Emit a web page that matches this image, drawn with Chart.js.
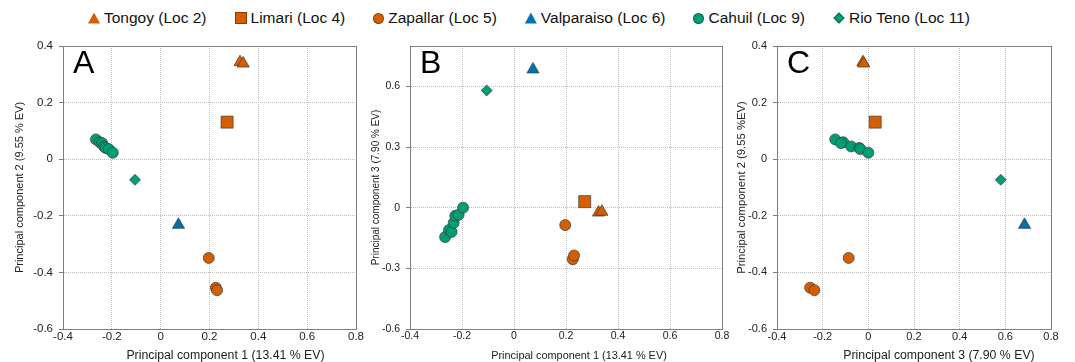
<!DOCTYPE html>
<html>
<head>
<meta charset="utf-8">
<script src="https://cdn.jsdelivr.net/npm/chart.js@4.4.1/dist/chart.umd.min.js"></script>
<style>
  body { margin:0; background:#fff; width:1075px; height:362px; overflow:hidden; position:relative;
         font-family:"Liberation Sans", Arial, sans-serif; }
  #legend { position:absolute; left:88px; top:0; height:36px; display:flex;
            justify-content:flex-start; align-items:center; gap:28px; font-size:15.5px; color:#111; }
  .item { display:flex; align-items:center; white-space:nowrap; }
  .mk { display:inline-block; margin-right:4px; }
  .triangle { width:12px; height:11px; clip-path:polygon(50% 0, 100% 100%, 0 100%); }
  .rect { width:12px; height:12px; box-sizing:border-box; border:1px solid rgba(0,0,0,0.35); }
  .circle { width:11px; height:11px; border-radius:50%; box-sizing:border-box; border:1px solid rgba(0,0,0,0.35); }
  .rectRot { width:8px; height:8px; transform:rotate(45deg); margin:0 6px 0 2px; box-sizing:border-box; border:1px solid rgba(0,0,0,0.35); }
  canvas { position:absolute; }
</style>
</head>
<body>
<div id="legend"></div>
<canvas id="chartA" width="370" height="332" style="left:0;top:30px"></canvas>
<canvas id="chartB" width="380" height="332" style="left:355px;top:30px"></canvas>
<canvas id="chartC" width="355" height="332" style="left:720px;top:30px"></canvas>
<script>
// sites, in legend order
var locNames = ['Tongoy (Loc 2)', 'Limari (Loc 4)', 'Zapallar (Loc 5)', 'Valparaiso (Loc 6)', 'Cahuil (Loc 9)', 'Rio Teno (Loc 11)'];

// principal component scores
var tongoyPC1 = [0.325, 0.338];
var tongoyPC2 = [0.343, 0.338];
var tongoyPC3 = [-0.024, -0.020];

var limariPC1 = [0.272];
var limariPC2 = [0.131];
var limariPC3 = [0.030];

var zapallarPC1 = [0.197, 0.226, 0.231];
var zapallarPC2 = [-0.349, -0.454, -0.463];
var zapallarPC3 = [-0.086, -0.255, -0.236];

var valparaisoPC1 = [0.073];
var valparaisoPC2 = [-0.232];
var valparaisoPC3 = [0.684];

var cahuilPC1 = [-0.265, -0.250, -0.240, -0.232, -0.226, -0.213, -0.196];
var cahuilPC2 = [0.070, 0.060, 0.057, 0.045, 0.040, 0.036, 0.023];
var cahuilPC3 = [-0.145, -0.110, -0.120, -0.075, -0.040, -0.035, 0.000];

var rioTenoPC1 = [-0.105];
var rioTenoPC2 = [-0.073];
var rioTenoPC3 = [0.580];

// tick labels
var ticksPC = [-0.4, -0.2, 0, 0.2, 0.4, 0.6, 0.8];
var ticksPC2 = [-0.6, -0.4, -0.2, 0, 0.2, 0.4];
var ticksPC3 = [-0.6, -0.3, 0, 0.3, 0.6];

var PC1 = [tongoyPC1, limariPC1, zapallarPC1, valparaisoPC1, cahuilPC1, rioTenoPC1];
var PC2 = [tongoyPC2, limariPC2, zapallarPC2, valparaisoPC2, cahuilPC2, rioTenoPC2];
var PC3 = [tongoyPC3, limariPC3, zapallarPC3, valparaisoPC3, cahuilPC3, rioTenoPC3];

// marker styles
var locColors = ['#d55e00', '#d55e00', '#d55e00', '#0072b2', '#009e73', '#009e73'];
var locShapes = ['triangle', 'rect', 'circle', 'triangle', 'circle', 'rectRot'];
var locRadius = [7, 8.5, 5.5, 7, 5.5, 5.5];

var FONT = '"Liberation Sans", Arial, sans-serif';

// html legend
var legendHtml = '';
for (var i = 0; i < locNames.length; i++) {
  legendHtml += '<span class="item"><span class="mk ' + locShapes[i] + '" style="background:' + locColors[i] + '"></span>' + locNames[i] + '</span>';
}
document.getElementById('legend').innerHTML = legendHtml;

function makeDatasets(xs, ys) {
  return locNames.map(function (name, i) {
    return {
      label: name,
      data: xs[i].map(function (x, j) { return {x: x, y: ys[i][j]}; }),
      pointStyle: locShapes[i],
      pointRadius: locRadius[i],
      backgroundColor: locColors[i],
      borderColor: '#3b3b3b',
      borderWidth: 0.7
    };
  });
}

function fmt(v) {
  var r = Math.round(v * 10) / 10;
  return r === 0 ? '0' : String(r);
}

// frame, panel letter and x title
var panelDecor = {
  id: 'panelDecor',
  afterDraw: function (chart, args, opts) {
    var ctx = chart.ctx, a = chart.chartArea;
    ctx.save();
    ctx.strokeStyle = '#7f7f7f';
    ctx.lineWidth = 1;
    ctx.strokeRect(Math.round(a.left) + 0.5, Math.round(a.top) + 0.5, Math.round(a.right - a.left), Math.round(a.bottom - a.top));
    ctx.fillStyle = '#000';
    ctx.font = '32px ' + FONT;
    ctx.textBaseline = 'alphabetic';
    ctx.textAlign = 'left';
    ctx.fillText(opts.letter, a.left + 10, a.top + 27);
    ctx.fillStyle = '#222';
    ctx.font = opts.titleSize + 'px ' + FONT;
    ctx.textAlign = 'center';
    ctx.textBaseline = 'middle';
    ctx.fillText(opts.xTitle, (a.left + a.right) / 2 + opts.xShift, chart.height - 6.5);
    ctx.restore();
  }
};

function axis(min, max, ticks, fontSize, fixed, horizontal, title, titleSize, titlePad) {
  var s = {
    type: 'linear',
    min: min,
    max: max,
    afterBuildTicks: function (scale) {
      scale.ticks = ticks.map(function (v) { return {value: v}; });
    },
    afterFit: function (scale) {
      if (horizontal) scale.height = fixed; else scale.width = fixed;
    },
    ticks: {
      font: {family: FONT, size: fontSize},
      color: '#222',
      padding: horizontal ? 1 : 6,
      maxRotation: 0,
      autoSkip: false,
      callback: function (v) { return fmt(v); }
    },
    grid: {
      color: '#bdbdbd',
      lineWidth: 1,
      drawTicks: !horizontal,
      tickLength: 4,
      tickColor: '#7f7f7f',
      tickBorderDash: []
    },
    border: {display: true, color: '#7f7f7f', width: 1, dash: [1, 1]}
  };
  if (title) {
    s.title = {display: true, text: title, color: '#222',
      font: {family: FONT, size: titleSize, lineHeight: 1.2},
      padding: {top: titlePad, bottom: 0}};
  }
  return s;
}

function panel(id, xs, ys, cfg) {
  return new Chart(document.getElementById(id), {
    type: 'scatter',
    data: {datasets: makeDatasets(xs, ys)},
    options: {
      responsive: false,
      animation: false,
      devicePixelRatio: 1,
      layout: {padding: {left: 0, top: 16, right: cfg.padRight, bottom: 0}},
      scales: {
        x: axis(-0.4, 0.8, ticksPC, cfg.tickSize, 33, true),
        y: axis(cfg.yMin, cfg.yMax, cfg.yTicks, cfg.tickSize, cfg.yWidth, false, cfg.yTitle, cfg.yTitleSize, cfg.yTitlePad)
      },
      plugins: {
        legend: {display: false},
        tooltip: {enabled: false},
        panelDecor: {letter: cfg.letter, xTitle: cfg.xTitle, titleSize: cfg.xTitleSize, xShift: cfg.xShift}
      }
    },
    plugins: [panelDecor]
  });
}

panel('chartA', PC1, PC2, {
  letter: 'A', padRight: 14, yWidth: 63, yMin: -0.6, yMax: 0.4, yTicks: ticksPC2, tickSize: 11.5,
  yTitle: 'Principal component 2 (9.55 % EV)', yTitleSize: 11, yTitlePad: 13,
  xTitle: 'Principal component 1 (13.41 % EV)', xTitleSize: 12.3, xShift: 16
});

panel('chartB', PC1, PC3, {
  letter: 'B', padRight: 13, yWidth: 55, yMin: -0.6, yMax: 0.8, yTicks: ticksPC3, tickSize: 10.5,
  yTitle: 'Principal component 3 (7.90 % EV)', yTitleSize: 10, yTitlePad: 15,
  xTitle: 'Principal component 1 (13.41 % EV)', xTitleSize: 10.9, xShift: 13
});

panel('chartC', PC3, PC2, {
  letter: 'C', padRight: 24, yWidth: 57, yMin: -0.6, yMax: 0.4, yTicks: ticksPC2, tickSize: 11,
  yTitle: 'Principal component 2 (9.55 %EV)', yTitleSize: 11.3, yTitlePad: 15,
  xTitle: 'Principal component 3 (7.90 % EV)', xTitleSize: 12.3, xShift: 25
});
</script>
</body>
</html>
